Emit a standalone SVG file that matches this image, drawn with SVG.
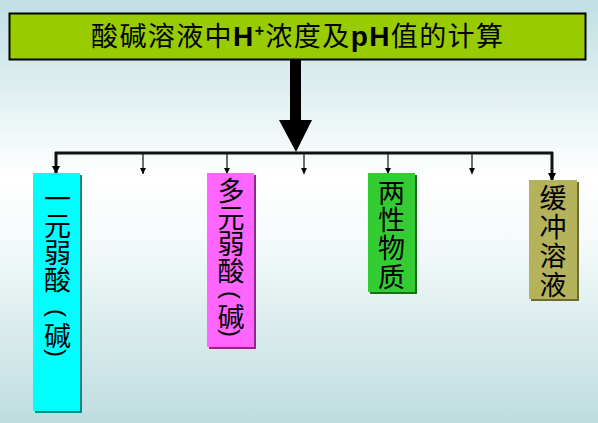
<svg xmlns="http://www.w3.org/2000/svg" width="598" height="423" viewBox="0 0 598 423">
<defs>
<linearGradient id="bg" x1="0" y1="0" x2="0" y2="1">
<stop offset="0" stop-color="#bfdfe3"/>
<stop offset="0.42" stop-color="#ffffff"/>
<stop offset="0.55" stop-color="#f7fbfb"/>
<stop offset="1" stop-color="#bedddf"/>
</linearGradient>
<marker id="ah" viewBox="0 0 8 8" refX="8" refY="4" markerWidth="6" markerHeight="6" markerUnits="userSpaceOnUse" orient="auto">
<path d="M0,0 L8,4 L0,8 z" fill="#000"/>
</marker>
<marker id="ahb" viewBox="0 0 8 8" refX="8" refY="4" markerWidth="8" markerHeight="8" markerUnits="userSpaceOnUse" orient="auto">
<path d="M0,0 L8,4 L0,8 z" fill="#000"/>
</marker>
</defs>
<style>
.cjk{font-family:"Noto Sans CJK SC","Noto Sans CJK JP",sans-serif;font-size:27px;fill:#000;text-anchor:middle;dominant-baseline:central}
.par{font-family:"Liberation Sans",Arial,sans-serif;font-size:24px;fill:#000;text-anchor:middle;dominant-baseline:central}
.title{font-family:"Noto Sans CJK SC","Noto Sans CJK JP",sans-serif;font-size:27px;fill:#000}
.lat{font-family:"Liberation Sans",Arial,sans-serif;font-weight:bold}
.conn{stroke:#111;fill:none}
</style>
<rect x="0" y="0" width="598" height="423" fill="url(#bg)"/>

<g id="title">
<rect x="9.5" y="13.5" width="576" height="46" fill="#99cc00" stroke="#000" stroke-width="2"/>
<text class="title" x="91" y="46" textLength="412" lengthAdjust="spacing">酸碱溶液中<tspan class="lat" font-size="28">H</tspan><tspan class="lat" font-size="16" dy="-10">+</tspan><tspan dy="10">浓度及</tspan><tspan class="lat" font-size="28">pH</tspan>值的计算</text>
</g>

<g id="connectors">
<polygon points="290,59 301,59 301,120 312,120 296,152 279,120 290,120" fill="#000"/>
<line class="conn" x1="55" y1="153" x2="553" y2="153" stroke-width="3" stroke="#222"/>
<line class="conn" x1="56" y1="152" x2="56" y2="174" stroke-width="3" marker-end="url(#ahb)"/>
<line class="conn" x1="143" y1="154" x2="143" y2="174" stroke-width="1.2" marker-end="url(#ah)"/>
<line class="conn" x1="227" y1="154" x2="227" y2="174" stroke-width="1.2" marker-end="url(#ah)"/>
<line class="conn" x1="304" y1="154" x2="304" y2="174" stroke-width="1.2" marker-end="url(#ah)"/>
<line class="conn" x1="388" y1="154" x2="388" y2="174" stroke-width="1.2" marker-end="url(#ah)"/>
<line class="conn" x1="472" y1="154" x2="472" y2="174" stroke-width="1.2" marker-end="url(#ah)"/>
<line class="conn" x1="552" y1="152" x2="552" y2="181" stroke-width="3" marker-end="url(#ahb)"/>
</g>

<g id="node-monoprotic">
<rect x="35" y="175" width="47" height="238" fill="#008a8a"/>
<rect x="33" y="173" width="47" height="238" fill="#00ffff"/>
<text class="cjk" x="57.5" y="197">一</text>
<text class="cjk" x="57.5" y="224">元</text>
<text class="cjk" x="57.5" y="251">弱</text>
<text class="cjk" x="57.5" y="278">酸</text>
<text class="par" x="57.5" y="313" transform="rotate(90 57.5 313)">(</text>
<text class="cjk" x="57.5" y="334">碱</text>
<text class="par" x="57.5" y="353" transform="rotate(90 57.5 353)">)</text>
</g>

<g id="node-polyprotic">
<rect x="209" y="175" width="47" height="174" fill="#8a2a8a"/>
<rect x="207" y="173" width="47" height="174" fill="#ff66ff"/>
<text class="cjk" x="231" y="189">多</text>
<text class="cjk" x="231" y="216">元</text>
<text class="cjk" x="231" y="242">弱</text>
<text class="cjk" x="231" y="269">酸</text>
<text class="par" x="231" y="295" transform="rotate(90 231 295)">(</text>
<text class="cjk" x="231" y="315">碱</text>
<text class="par" x="231" y="333" transform="rotate(90 231 333)">)</text>
</g>

<g id="node-amphoteric">
<rect x="370" y="175" width="47" height="119" fill="#1a6e1a"/>
<rect x="368" y="173" width="47" height="119" fill="#33cc33"/>
<text class="cjk" x="391.5" y="191">两</text>
<text class="cjk" x="391.5" y="218">性</text>
<text class="cjk" x="391.5" y="246">物</text>
<text class="cjk" x="391.5" y="275">质</text>
</g>

<g id="node-buffer">
<rect x="531" y="182" width="48" height="119" fill="#6e6d30"/>
<rect x="529" y="180" width="48" height="119" fill="#b4b25a"/>
<text class="cjk" x="553" y="196">缓</text>
<text class="cjk" x="553" y="225">冲</text>
<text class="cjk" x="553" y="254">溶</text>
<text class="cjk" x="553" y="283">液</text>
</g>
</svg>
